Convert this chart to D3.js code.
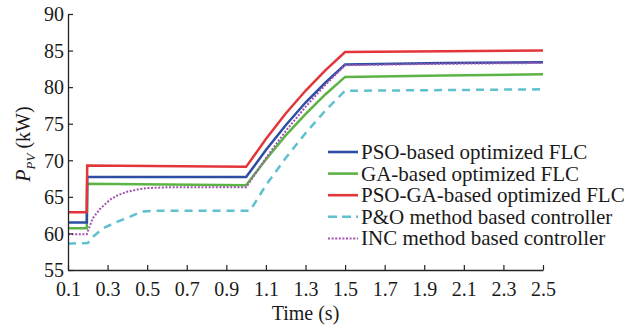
<!DOCTYPE html>
<html>
<head>
<meta charset="utf-8">
<script src="https://cdn.jsdelivr.net/npm/d3@7"></script>
<style>
  body { margin: 0; background: #fff; }
  svg { display: block; }
  svg text { font-family: "Liberation Serif", "Times New Roman", Times, "DejaVu Serif", serif; fill: #1a1a1a; }
</style>
</head>
<body>
<div id="chart"></div>
<script>
// series: [time (s), P_PV (kW)]
const psoFlc = [[0.1, 61.5], [0.195, 61.5], [0.197, 67.7], [1.0, 67.7], [1.1, 71.4], [1.2, 74.8], [1.3, 77.9], [1.4, 80.6], [1.5, 83.1], [2.0, 83.3], [2.5, 83.4]];
const gaFlc = [[0.1, 60.7], [0.195, 60.7], [0.197, 66.8], [0.6, 66.7], [1.0, 66.6], [1.1, 70.1], [1.2, 73.4], [1.3, 76.3], [1.4, 79.0], [1.5, 81.4], [2.0, 81.6], [2.5, 81.75]];
const psoGaFlc = [[0.1, 62.9], [0.195, 62.9], [0.197, 69.3], [1.0, 69.1], [1.1, 72.9], [1.2, 76.4], [1.3, 79.5], [1.4, 82.3], [1.5, 84.8], [2.0, 84.9], [2.5, 85.0]];
const poCtrl = [[0.1, 58.6], [0.2, 58.7], [0.22, 59.4], [0.277, 60.7], [0.34, 61.5], [0.398, 62.1], [0.44, 62.6], [0.48, 63.0], [0.55, 63.1], [1.02, 63.1], [1.1, 66.6], [1.2, 70.3], [1.3, 73.7], [1.4, 76.8], [1.5, 79.5], [2.0, 79.6], [2.5, 79.7]];
const incCtrl = [[0.1, 59.9], [0.195, 59.9], [0.2, 60.3], [0.226, 62.1], [0.26, 63.3], [0.312, 64.6], [0.35, 65.2], [0.398, 65.7], [0.45, 66.0], [0.5, 66.2], [0.6, 66.3], [1.0, 66.3], [1.1, 70.3], [1.2, 74.0], [1.3, 77.3], [1.4, 80.3], [1.5, 83.0], [2.0, 83.2], [2.5, 83.3]];

const xTicks = [0.1, 0.3, 0.5, 0.7, 0.9, 1.1, 1.3, 1.5, 1.7, 1.9, 2.1, 2.3, 2.5];
const yTicks = [55, 60, 65, 70, 75, 80, 85, 90];

const seriesNames = ['PSO-based optimized FLC', 'GA-based optimized FLC', 'PSO-GA-based optimized FLC', 'P&O method based controller', 'INC method based controller'];
const seriesColors = ['#2c4fa3', '#5db446', '#e2363a', '#5fc0cf', '#a453b3'];
const seriesData = [psoFlc, gaFlc, psoGaFlc, poCtrl, incCtrl];
const seriesDash = [null, null, null, '8,6', '2,1.6'];
const drawOrder = [3, 1, 0, 2, 4];

const serif = '"Liberation Serif", "Times New Roman", Times, "DejaVu Serif", serif';

const width = 629;
const height = 327;
const margin = { left: 68, right: 86, top: 14, bottom: 57 };

const svg = d3.select('#chart')
  .append('svg')
  .attr('width', width)
  .attr('height', height)
  .attr('font-family', serif);

const x = d3.scaleLinear()
  .domain([0.1, 2.5])
  .range([margin.left, width - margin.right]);

const y = d3.scaleLinear()
  .domain([55, 90])
  .range([height - margin.bottom, margin.top]);

const line = d3.line()
  .x(d => x(d[0]))
  .y(d => y(d[1]));

// lines
drawOrder.forEach(i => {
  svg.append('path')
    .datum(seriesData[i])
    .attr('d', line)
    .attr('fill', 'none')
    .attr('stroke', seriesColors[i])
    .attr('stroke-width', i === 4 ? 2 : 2.5)
    .attr('stroke-dasharray', seriesDash[i]);
});

// axes, ticks pointing inwards
const xAxis = svg.append('g')
  .attr('transform', `translate(0,${y(55)})`)
  .call(d3.axisBottom(x).tickValues(xTicks).tickSize(-5).tickFormat(d3.format('.1f')).tickSizeOuter(0));

const yAxis = svg.append('g')
  .attr('transform', `translate(${x(0.1)},0)`)
  .call(d3.axisLeft(y).tickValues(yTicks).tickSize(-5).tickSizeOuter(0));

[xAxis, yAxis].forEach(g => {
  g.attr('font-family', serif).attr('font-size', 20);
  g.select('.domain').attr('stroke', '#222').attr('stroke-width', 1.3);
  g.selectAll('.tick line').attr('stroke', '#222').attr('stroke-width', 1.2);
  g.selectAll('.tick text').attr('fill', '#1a1a1a');
});

xAxis.selectAll('.tick text').attr('y', 12).attr('dy', '0.71em');
yAxis.selectAll('.tick text').attr('x', -4).attr('dy', '0.34em');

// axis titles
svg.append('text')
  .attr('x', (x(0.1) + x(2.5)) / 2)
  .attr('y', 320)
  .attr('text-anchor', 'middle')
  .attr('font-size', 20)
  .text('Time (s)');

const yLabel = svg.append('text')
  .attr('transform', `translate(30,${144}) rotate(-90)`)
  .attr('text-anchor', 'middle')
  .attr('font-size', 20);
yLabel.append('tspan').attr('font-style', 'italic').text('P');
yLabel.append('tspan').attr('font-style', 'italic').attr('font-size', 13).attr('dy', 5).text('PV');
yLabel.append('tspan').attr('dy', -5).text(' (kW)');

// legend
const legend = svg.append('g');
seriesNames.forEach((name, i) => {
  const ly = 152 + i * 21.6;
  legend.append('line')
    .attr('x1', 328).attr('x2', 358)
    .attr('y1', ly).attr('y2', ly)
    .attr('stroke', seriesColors[i])
    .attr('stroke-width', i === 4 ? 2 : 2.6)
    .attr('stroke-dasharray', i === 3 ? '9,5' : seriesDash[i]);
  legend.append('text')
    .attr('x', 361)
    .attr('y', ly)
    .attr('dy', '0.33em')
    .attr('font-size', 21)
    .text(name);
});
</script>
</body>
</html>
